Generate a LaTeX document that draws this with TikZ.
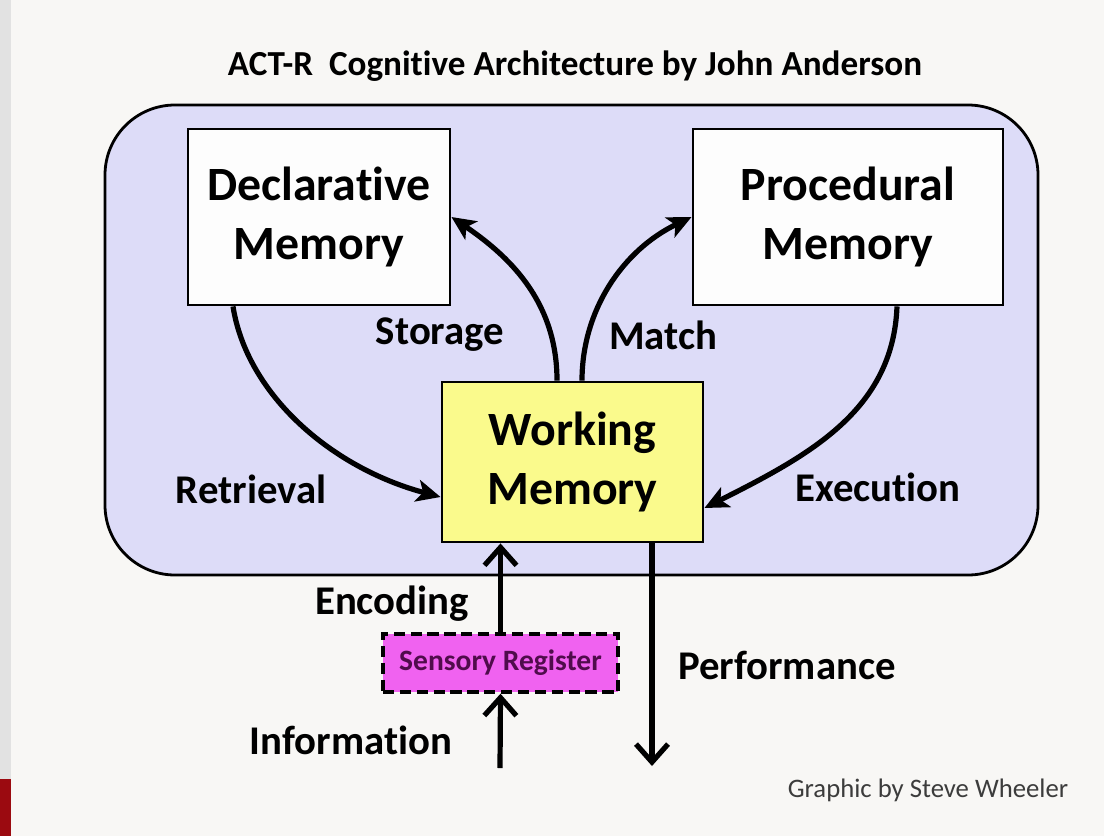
\documentclass[tikz,border=0pt]{standalone}
\usepackage{fontspec}
\setmainfont{Carlito}[Ligatures=NoCommon]
\usetikzlibrary{arrows.meta}

\definecolor{pagebg}{RGB}{248,247,245}
\definecolor{stripgray}{RGB}{226,226,226}
\definecolor{stripred}{RGB}{155,10,16}
\definecolor{archfill}{RGB}{221,220,248}
\definecolor{boxwhite}{RGB}{253,253,253}
\definecolor{wmyellow}{RGB}{250,250,140}
\definecolor{sensmagenta}{RGB}{240,98,240}
\definecolor{senstext}{RGB}{80,12,76}
\definecolor{credgray}{RGB}{60,60,60}

\newcommand{\memfont}{\fontsize{34}{42}\selectfont\bfseries}
\newcommand{\tagfont}{\fontsize{29}{32}\selectfont\bfseries}
\newcommand{\headfont}{\fontsize{25}{28}\selectfont\bfseries}

\tikzset{
  membox/.style={draw, line width=2pt, fill=boxwhite, align=center, font=\memfont, inner sep=0pt},
  flow/.style={line width=3.7pt, -{Stealth[length=0.6cm, width=0.55cm, inset=0.15cm]}},
  feed/.style={line width=3.7pt, -{Straight Barb[length=0.45cm, width=0.8cm]}},
  tag/.style={font=\tagfont, inner sep=0pt},
}

\begin{document}
\begin{tikzpicture}[x=0.025cm, y=-0.025cm]
    % --- PAGE ---
    \fill[pagebg] (0,0) rectangle (1104,836);
    \useasboundingbox (0,0) rectangle (1104,836);
    \fill[stripgray] (0,0) rectangle (11,779);
    \fill[stripred] (0,779) rectangle (11,836);

    \node[font=\headfont] (title) at (575,66) {ACT-R\ \ Cognitive Architecture by John Anderson};

    % --- ARCHITECTURE ---
    \draw[line width=2pt, fill=archfill, rounded corners=1.75cm]
        (105,105) rectangle (1038,575);

    \node[membox, minimum width=6.55cm, minimum height=4.4cm] (decl) at (319,217) {Declarative\\Memory};
    \node[membox, minimum width=7.75cm, minimum height=4.4cm] (proc) at (848,217) {Procedural\\Memory};
    \node[membox, fill=wmyellow, minimum width=6.525cm, minimum height=4cm] (wm) at (572.5,462) {Working\\Memory};

    % Storage and Match
    \draw[flow] (557,0 |- wm.north) .. controls (557,306) and (515,260) .. (decl.east);
    \draw[flow] (582,0 |- wm.north) .. controls (582,310) and (623,250) .. (proc.west);

    % Retrieval and Execution
    \draw[flow] (233,0 |- decl.south) .. controls (247,395) and (332,468) .. (wm.west |- 0,497);
    \draw[flow] (897,0 |- proc.south) .. controls (893,410) and (810,455) .. (wm.east |- 0,508);

    \node[tag] (storage) at (440,335) {Storage};
    \node[tag] (match) at (663,335) {Match};
    \node[tag] (retrieval) at (251,489) {Retrieval};
    \node[tag] (execution) at (878,487) {Execution};

    % --- INPUT / OUTPUT ---
    \node[draw, line width=2.4pt, dash pattern=on 8pt off 4pt, fill=sensmagenta,
          minimum width=5.875cm, minimum height=1.45cm, inner sep=0pt,
          text=senstext, font=\fontsize{21}{24}\selectfont\bfseries] (sens) at (500.5,663) {Sensory Register};

    \coordinate (infoin) at (500,768);
    \coordinate (perfout) at (652,766);

    \draw[feed] (sens.north) -- (sens.north |- wm.south);
    \draw[feed] (infoin) -- (sens.south);
    \draw[feed] (perfout |- wm.south) -- (perfout);

    \node[tag] (encoding) at (392,604) {Encoding};
    \node[tag] (information) at (351,740) {Information};
    \node[tag] (performance) at (787,665) {Performance};

    \node[font=\fontsize{19}{22}\selectfont, text=credgray] (credit) at (928,790) {Graphic by Steve Wheeler};
\end{tikzpicture}
\end{document}
